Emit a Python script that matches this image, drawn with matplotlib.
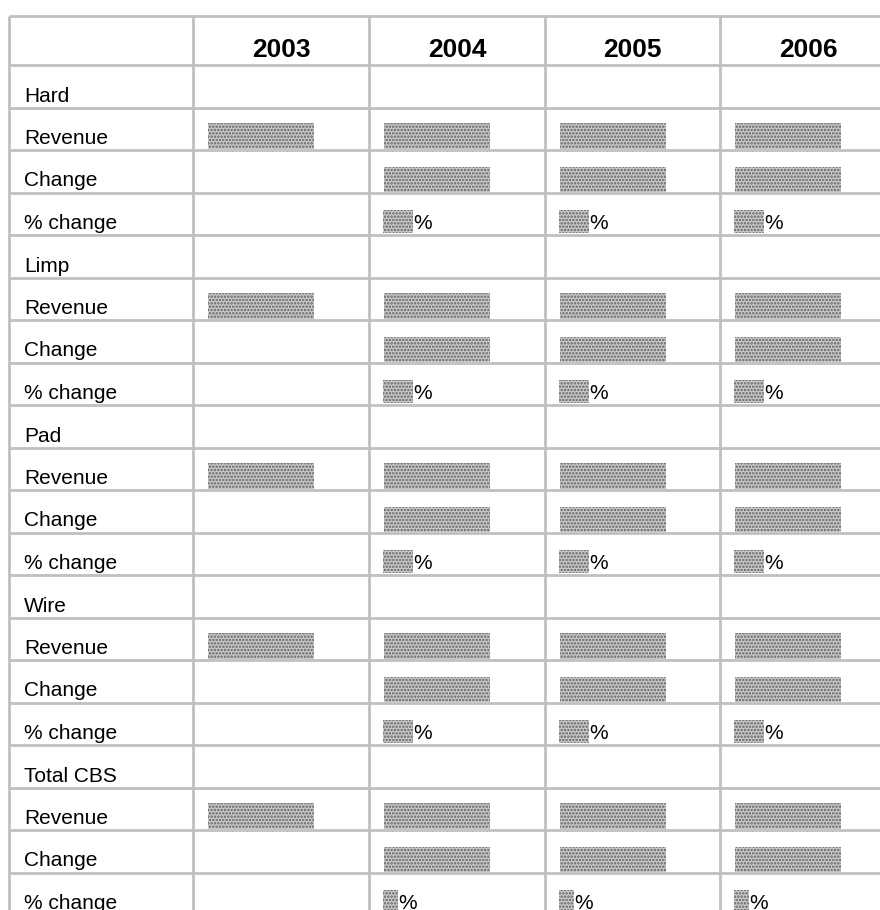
import matplotlib
matplotlib.use('Agg')
import matplotlib.pyplot as plt
from matplotlib.patches import Rectangle

years = ['2003', '2004', '2005', '2006']
groups = ['Hard', 'Limp', 'Pad', 'Wire', 'Total CBS']
metrics = ['Revenue', 'Change', '% change']
# 1 = a (masked) value is shown in that year's cell
has_value = {'Revenue': [1, 1, 1, 1],
             'Change': [0, 1, 1, 1],
             '% change': [0, 1, 1, 1]}
# number of masked digits in the % change cells, per group
pct_digits = [2, 2, 2, 2, 1]

plt.rcParams['font.family'] = ['Liberation Sans', 'DejaVu Sans']
plt.rcParams['hatch.linewidth'] = 1.2

fig = plt.figure(figsize=(8.8, 9.1), dpi=100)
ax = fig.add_axes([0, 0, 1, 1])
ax.set_xlim(0, 880)
ax.set_ylim(910, 0)
ax.axis('off')

grid_c = '#c0c0c0'
left = 9
top = 16
col_x = [193, 369, 545, 720, 896]
head_bot = 65
row_h = 42.5

# table rows: group title row, then one row per metric
rows = []
for g_i, g in enumerate(groups):
    rows.append((g, None, g_i))
    for m in metrics:
        rows.append((m, m, g_i))

def hatched(x, y, w, h):
    ax.add_patch(Rectangle((x, y), w, h, facecolor='#cbcbcb', edgecolor='none', zorder=2))
    ax.add_patch(Rectangle((x, y), w, h, facecolor='none', edgecolor='#5f5f5f',
                           linewidth=0, hatch='.....', zorder=3))

# grid lines
bottom = head_bot + row_h * len(rows)
ax.hlines(top, left, 880, color=grid_c, lw=2)
ax.hlines(head_bot, left, 880, color=grid_c, lw=2)
for k in range(len(rows)):
    ax.hlines(head_bot + row_h * (k + 1), left, 880, color=grid_c, lw=2)
ax.vlines([left] + col_x, top, bottom, color=grid_c, lw=2)

# header
for i, yr in enumerate(years):
    cx = (col_x[i] + col_x[i + 1]) / 2
    ax.text(cx, 57, yr, ha='center', va='baseline', fontsize=19, fontweight='bold')

for k, (label, metric, g_i) in enumerate(rows):
    y0 = head_bot + row_h * k
    y1 = y0 + row_h
    ax.text(24, y1 - 6, label, ha='left', va='baseline', fontsize=15)
    if metric is None:
        continue
    for i, flag in enumerate(has_value[metric]):
        if not flag:
            continue
        x0 = col_x[i] + 14
        if metric == '% change':
            w = 15 * pct_digits[g_i]
            hatched(x0, y0 + 17, w, 23)
            ax.text(x0 + w, y1 - 6, '%', ha='left', va='baseline', fontsize=15)
        elif metric == 'Revenue':
            hatched(x0 + 1, y0 + 15, 106, 26)
        else:
            hatched(x0 + 1, y0 + 17, 106, 25)

fig.savefig('out.png', dpi=100)
